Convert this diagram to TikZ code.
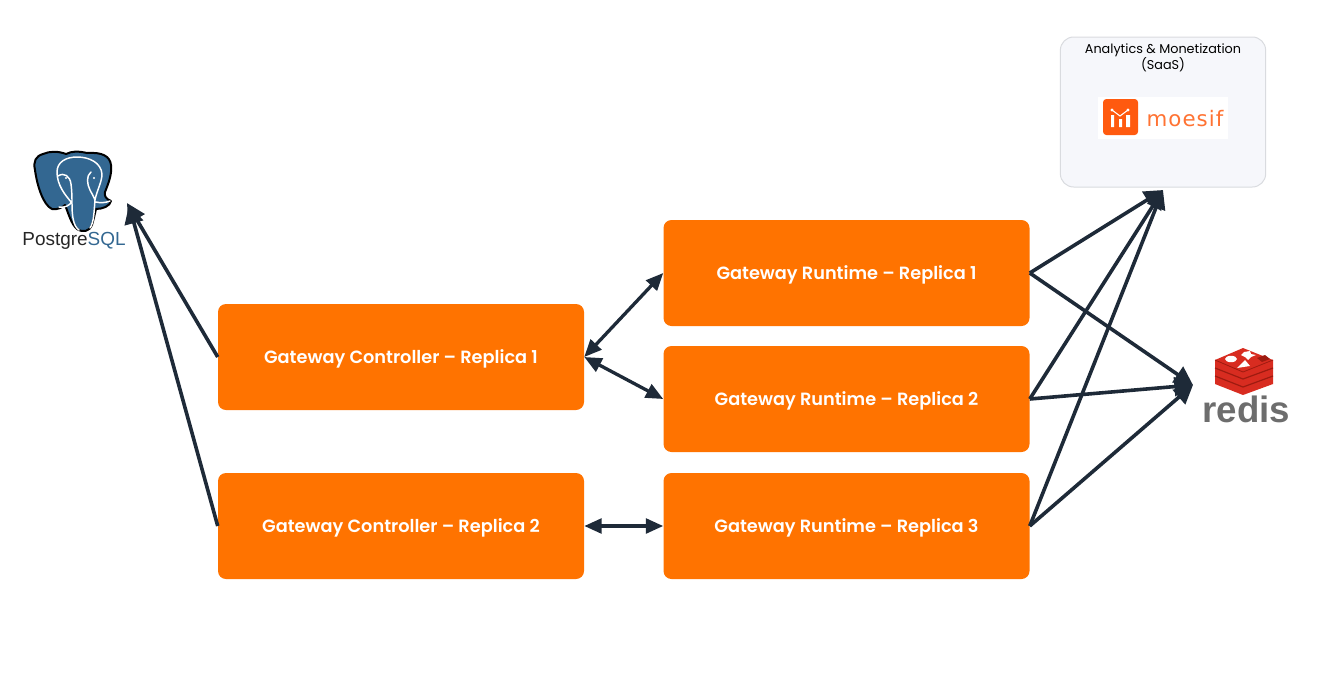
\documentclass[tikz,border=0pt]{standalone}
\usepackage{fontspec}
\setmainfont{Poppins}
\newfontfamily\boxfont{Poppins SemiBold}
\newfontfamily\logosans{Liberation Sans}
\newfontfamily\logomoe{DejaVu Sans}
\usetikzlibrary{arrows.meta}
\definecolor{boxorange}{HTML}{FF7300}
\definecolor{arrowink}{HTML}{1E2A38}
\definecolor{saasfill}{HTML}{F6F7FB}
\definecolor{saasline}{HTML}{D9DBDF}
\definecolor{pgblue}{HTML}{336791}
\definecolor{moeorange}{HTML}{FF5A0F}
\definecolor{redisred}{HTML}{D82C20}
\definecolor{redisdark}{HTML}{9E1B10}
\definecolor{redisgrey}{HTML}{6D6D6D}
\tikzset{
  stepbox/.style={fill=boxorange,rounded corners=6pt,minimum width=274.5pt,minimum height=79.5pt,inner sep=0pt,text=white,text height=10pt,text depth=0.7pt,font=\boxfont\fontsize{13.3pt}{16pt}\selectfont},
  link/.style={draw=arrowink,line width=2.7pt,-{Triangle[length=14pt,width=14pt]}},
  duplex/.style={draw=arrowink,line width=2.5pt,{Triangle[length=13pt,width=11pt]}-{Triangle[length=13pt,width=11pt]}},
}
\begin{document}
\begin{tikzpicture}[x=0.75pt,y=-0.75pt]
\useasboundingbox (0,0) rectangle (1335,672);
% SaaS panel
\node[draw=saasline,line width=0.75pt,fill=saasfill,rounded corners=10pt,minimum width=154pt,minimum height=112.5pt,inner sep=0pt] (saas) at (1163,112) {};
\node[font=\fontsize{9.6pt}{12pt}\selectfont,align=center,text=black] (saastitle) at (1163,58) {Analytics \& Monetization\\(SaaS)};
% moesif logo
\fill[white] (1098,97) rectangle (1228,139);
\fill[moeorange,rounded corners=2.5pt] (1103,99) rectangle (1138,135);
\fill[white] (1111,115) rectangle (1114,127) (1119,119) rectangle (1122,127) (1126,115) rectangle (1130,127);
\draw[white,line width=0.8pt] (1112,110) -- (1120,116) -- (1128,110);
\fill[white] (1112,110) circle (1.6) (1128,110) circle (1.6);
\node[text=moeorange!85!white,font=\logomoe\fontsize{16pt}{18pt}\selectfont,inner sep=0pt] (moesif) at (1185,119) {\addfontfeatures{LetterSpace=5}moesif};
% PostgreSQL logo
\path[fill=pgblue,draw=black,line width=1.5pt,line join=round]
 (43,154) .. controls (36,156) and (33,161) .. (35,170)
 .. controls (37,185) and (43,205) .. (52,209)
 .. controls (58,210) and (63,207) .. (65,205)
 .. controls (68,212) and (71,224) .. (77,229)
 .. controls (83,233) and (90,231) .. (92,225)
 .. controls (94,218) and (95,213) .. (96,209)
 .. controls (103,209) and (110,206) .. (111,201)
 .. controls (106,199) and (104,196) .. (105,192)
 .. controls (109,182) and (112,174) .. (111,165)
 .. controls (110,156) and (102,152) .. (87,153)
 .. controls (78,151) and (72,151) .. (66,154)
 .. controls (58,151) and (50,151) .. (43,154) -- cycle;
\draw[white,line width=1.1pt,line join=round,line cap=round]
 (79,230) .. controls (73,226) and (72,215) .. (72,203)
 .. controls (65,195) and (57,185) .. (57,172)
 .. controls (57,162) and (66,157) .. (77,157)
 .. controls (90,157) and (101,163) .. (102,174)
 .. controls (102,182) and (97,190) .. (95,200)
 .. controls (94,212) and (94,222) .. (90,228)
 (58,176) .. controls (64,172) and (70,176) .. (71,184) .. controls (72,192) and (72,198) .. (72,203)
 (91,172) .. controls (86,176) and (87,184) .. (90,190) .. controls (92,194) and (94,197) .. (95,200)
 (59,207) .. controls (64,208) and (70,206) .. (72,201)
 (96,202) .. controls (100,203) and (105,203) .. (110,201);
\fill[white] (66,178) circle (1.2) (94,178) circle (1.2);
\node[inner sep=0pt,font=\logosans\fontsize{14.2pt}{17pt}\selectfont] (pg) at (74,241) {\textcolor{black!85}{Postgre}\textcolor{pgblue}{SQL}};
% redis logo
\fill[redisred] (1215,360) -- (1215,384) -- (1243,395) -- (1273,384) -- (1273,360) -- cycle;
\draw[redisdark,line width=0.9pt] (1215,368) -- (1243,379) -- (1273,368) (1215,376) -- (1243,387) -- (1273,376);
\fill[redisred] (1243,348) -- (1273,360) -- (1243,372) -- (1215,360) -- cycle;
\draw[redisdark,line width=0.6pt] (1215,360) -- (1243,372) -- (1273,360);
\fill[white] (1231,359) ellipse (6 and 3.2);
\fill[white] (1244,352) -- (1250,351) -- (1251,354) -- (1256,355) -- (1251,357) -- (1248,360) -- (1245,357) -- (1241,355) -- cycle;
\fill[white] (1237,368) -- (1250,366) -- (1245,360) -- cycle;
\fill[redisdark] (1257,358) -- (1265,355) -- (1270,359) -- (1262,362) -- cycle;
\node[inner sep=0pt,text=redisgrey,font=\logosans\bfseries\fontsize{27.5pt}{30pt}\selectfont] (redis) at (1246.5,409) {redis};
% boxes
\node[stepbox] (c1) at (401,357) {Gateway Controller – Replica 1};
\node[stepbox] (c2) at (401,526) {Gateway Controller – Replica 2};
\node[stepbox] (r1) at (846.5,273) {Gateway Runtime – Replica 1};
\node[stepbox] (r2) at (846.5,399) {Gateway Runtime – Replica 2};
\node[stepbox] (r3) at (846.5,526) {Gateway Runtime – Replica 3};
% arrow end points
\coordinate (pgin) at (127,203);
\coordinate (pginb) at (129,205);
\coordinate (saasin) at (1163,190);
\coordinate (redisin) at (1193,385);
% connectors
\draw[link] (c1.west) -- (pgin);
\draw[link] (c2.west) -- (pginb);
\draw[duplex] (c1.east) -- (r1.west);
\draw[duplex] (c1.east) -- (r2.west);
\draw[duplex] (c2.east) -- (r3.west);
\foreach \r in {r1,r2,r3}{
  \draw[link] (\r.east) -- (saasin);
  \draw[link] (\r.east) -- (redisin);
}
\end{tikzpicture}
\end{document}
